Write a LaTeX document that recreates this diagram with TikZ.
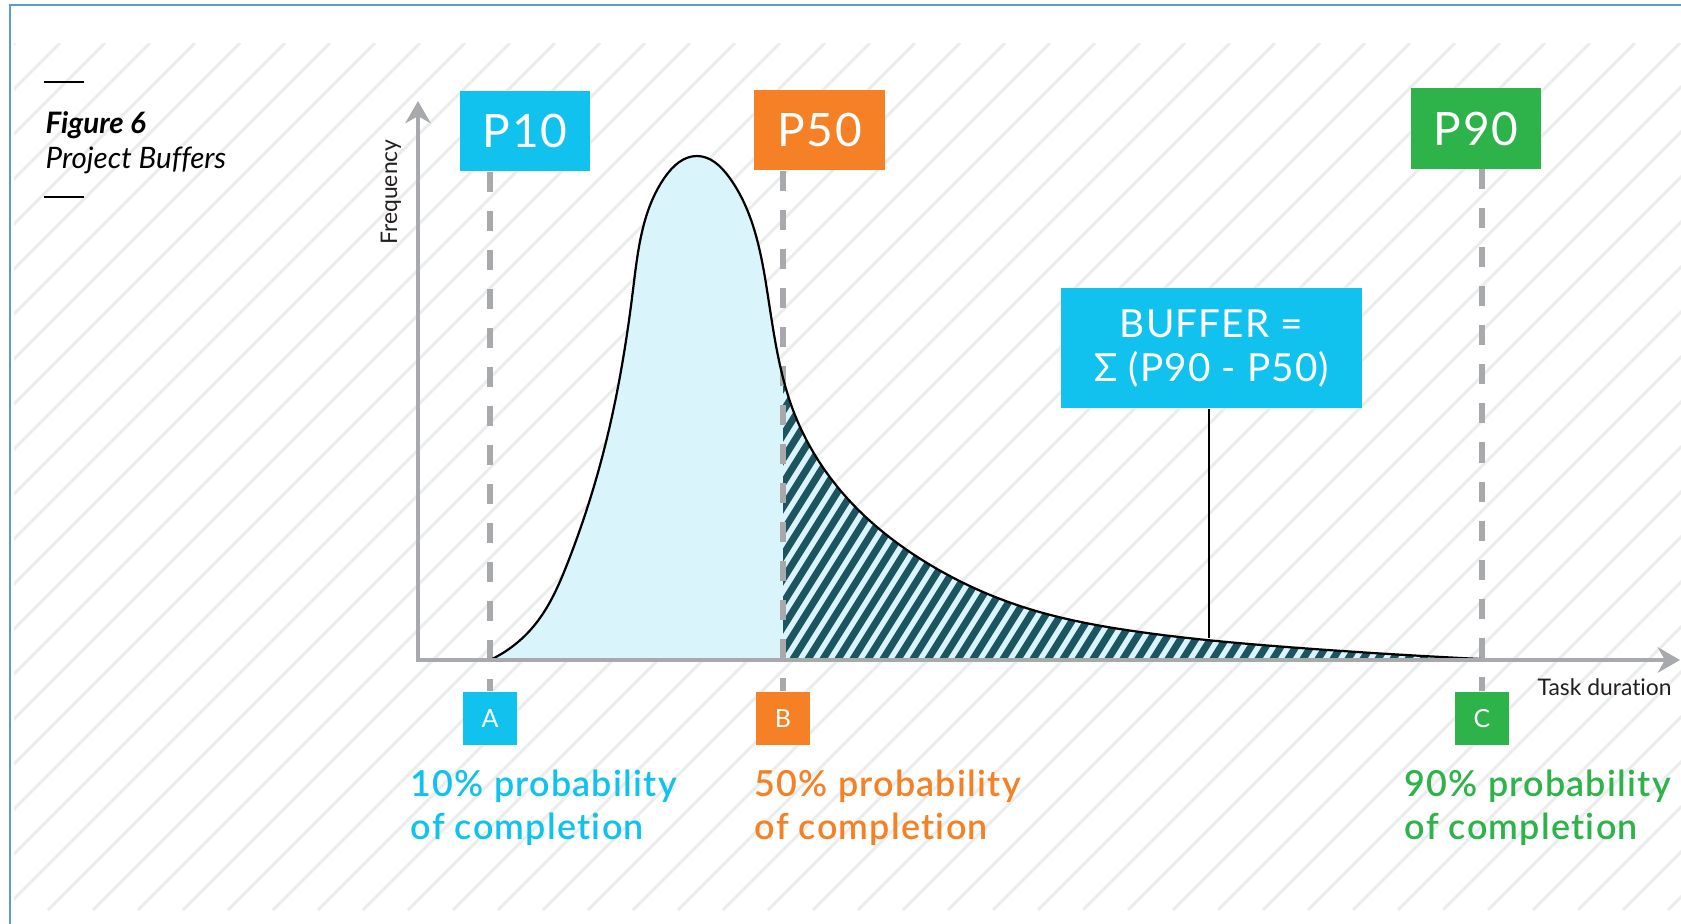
\documentclass[tikz,border=0pt]{standalone}
\usepackage{fontspec}
\setmainfont{Lato}[Ligatures=NoCommon]
\IfFontExistsTF{Lato Semibold}{\newfontfamily\capfont{Lato Semibold}[LetterSpace=3.5,Ligatures=NoCommon]}{\newcommand\capfont{\bfseries}}
\usepackage{tikz}
\usetikzlibrary{hobby}
\usetikzlibrary{arrows.meta}
\tikzset{>={Stealth[length=6.3pt,width=7.2pt,inset=2pt]}}
\usepackage{xcolor}
\definecolor{mycyan}{HTML}{12C2EE}
\definecolor{myorange}{HTML}{F58025}
\definecolor{mygreen}{HTML}{2EB34B}
\definecolor{mygrey}{HTML}{A7A9AC}
\definecolor{mylight}{HTML}{DAF4FB}
\definecolor{myteal}{HTML}{1C5560}
\definecolor{mystripe}{HTML}{EBECEC}
\definecolor{myframe}{HTML}{5B9BD5}
\definecolor{myink}{HTML}{231F20}
\newcommand\bell{(490,660) .. (533,627) .. (568,562) .. (604,450) .. (633,290) .. (665,177) .. (697,156) .. (729,177) .. (767,290) .. (793,410) .. (840,490) .. (927,563) .. (1023,607) .. (1140,632) .. (1300,648) .. (1481,659)}

\begin{document}
\begin{tikzpicture}[x=0.01cm,y=-0.01cm,
    stripe/.style={mystripe,line width=0.85pt},
    hatch/.style={myteal,line width=2pt},
    axis/.style={mygrey,line width=1.28pt},
    guide/.style={mygrey,line width=1.56pt,dash pattern=on 5.7pt off 5.4pt},
    lead/.style={black,line width=0.7pt},
    tag/.style={text=white,inner sep=0,minimum width=1.30cm,minimum height=0.80cm,font=\fontsize{13.1}{15}\selectfont\addfontfeatures{LetterSpace=4}},
    box/.style={text=white,inner sep=0,minimum size=0.53cm,font=\fontsize{7.1}{8}\selectfont},
    note/.style={anchor=north west,align=left,inner sep=0,font=\capfont\fontsize{10.2}{12.2}\selectfont},
    lab/.style={myink,inner sep=0,font=\fontsize{6.5}{8}\selectfont}]
    \message{Project buffers^^J}

    \useasboundingbox (0,0) rectangle (1681,924);
    \begin{scope}
      \clip (14,43) rectangle (1681,910);
      \foreach \c in {13,58,...,2600} \draw[stripe] (\c-910,910) -- (\c-43,43);
    \end{scope}
    \draw[myframe,line width=0.6pt] (10,924) -- (10,5) -- (1681,5);

    \draw[line width=0.4pt] (44,82) -- (84,82);
    \draw[line width=0.4pt] (44,197) -- (84,197);
    \node[anchor=north west,align=left,inner sep=0,font=\fontsize{8.4}{10}\selectfont] (title) at (45,111) {\textbf{\textit{Figure 6}}\\\textit{Project Buffers}};

    \fill[mylight,use Hobby shortcut] \bell -- cycle;
    \begin{scope}
      \clip (783,300) rectangle (1500,662);
      \clip[use Hobby shortcut] \bell -- cycle;
      \foreach \h in {560,575,...,1500} \draw[hatch] (\h,672) -- ++(222.6,-356.2);
    \end{scope}

    \node[tag,fill=mycyan] (P10) at (525,131) {P10};
    \node[tag,fill=myorange] (P50) at (819.5,130) {P50};
    \node[tag,fill=mygreen] (P90) at (1476,128.5) {P90};
    \node[box,fill=mycyan] (A) at (490,718.5) {A};
    \node[box,fill=myorange] (B) at (783,718.5) {B};
    \node[box,fill=mygreen] (C) at (1482,718.5) {C};

    \draw[guide] (A.north |- P10.south) -- (A.north);
    \draw[guide] (B.north |- P50.south) -- (B.north);
    \draw[guide] (C.north |- P90.south) -- (C.north);

    \draw[black,line width=0.63pt,use Hobby shortcut] \bell;

    \coordinate (O) at (418,660);
    \coordinate (ytop) at (418,101);
    \coordinate (xend) at (1680,660);
    \draw[axis,<->] (ytop) -- (O) -- (xend);
    \node[lab,rotate=90,anchor=base] (freq) at (397,192) {Frequency};
    \node[lab,anchor=base west] (dur) at (1537,695) {Task duration};

    \node[fill=mycyan,text=white,inner sep=0,minimum width=3.01cm,minimum height=1.20cm,align=center,font=\fontsize{11}{12.5}\selectfont\addfontfeatures{LetterSpace=3}] (buf) at (1211.5,348) {BUFFER =\\Σ (P90 - P50)};
    \coordinate (tail) at (1209,638);
    \draw[lead] (buf.south -| tail) -- (tail);

    \node[note,text=mycyan] (capA) at (410,769) {10\% probability\\of completion};
    \node[note,text=myorange] (capB) at (754,769) {50\% probability\\of completion};
    \node[note,text=mygreen] (capC) at (1404,769) {90\% probability\\of completion};

    \end{tikzpicture}
\end{document}
